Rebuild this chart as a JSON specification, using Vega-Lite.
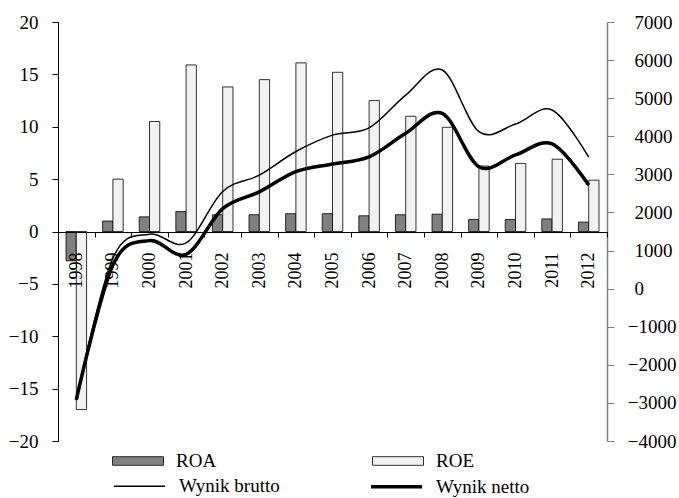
{
  "$schema": "https://vega.github.io/schema/vega-lite/v6.json",
  "width": 549,
  "height": 419,
  "autosize": {"type": "none"},
  "padding": {"left": 58, "top": 22, "right": 72, "bottom": 57},
  "background": "white",
  "config": {
    "font": "Liberation Serif",
    "view": {"stroke": null},
    "axis": {"labelFont": "Liberation Serif", "labelFontSize": 19, "labelColor": "black", "grid": false, "titleFont": "Liberation Serif"},
    "legend": {"labelFont": "Liberation Serif", "labelFontSize": 19, "labelColor": "black"}
  },
  "datasets": {
    "bars": [
      {"year": "1998", "series": "ROA", "value": -2.8}, {"year": "1998", "series": "ROE", "value": -17.0},
      {"year": "1999", "series": "ROA", "value": 1.0}, {"year": "1999", "series": "ROE", "value": 5.0},
      {"year": "2000", "series": "ROA", "value": 1.4}, {"year": "2000", "series": "ROE", "value": 10.5},
      {"year": "2001", "series": "ROA", "value": 1.9}, {"year": "2001", "series": "ROE", "value": 15.9},
      {"year": "2002", "series": "ROA", "value": 1.6}, {"year": "2002", "series": "ROE", "value": 13.8},
      {"year": "2003", "series": "ROA", "value": 1.6}, {"year": "2003", "series": "ROE", "value": 14.5},
      {"year": "2004", "series": "ROA", "value": 1.7}, {"year": "2004", "series": "ROE", "value": 16.1},
      {"year": "2005", "series": "ROA", "value": 1.7}, {"year": "2005", "series": "ROE", "value": 15.2},
      {"year": "2006", "series": "ROA", "value": 1.5}, {"year": "2006", "series": "ROE", "value": 12.5},
      {"year": "2007", "series": "ROA", "value": 1.6}, {"year": "2007", "series": "ROE", "value": 11.0},
      {"year": "2008", "series": "ROA", "value": 1.65}, {"year": "2008", "series": "ROE", "value": 9.95},
      {"year": "2009", "series": "ROA", "value": 1.15}, {"year": "2009", "series": "ROE", "value": 6.25},
      {"year": "2010", "series": "ROA", "value": 1.15}, {"year": "2010", "series": "ROE", "value": 6.5},
      {"year": "2011", "series": "ROA", "value": 1.2}, {"year": "2011", "series": "ROE", "value": 6.9},
      {"year": "2012", "series": "ROA", "value": 0.9}, {"year": "2012", "series": "ROE", "value": 4.9}
    ],
    "lines": [
      {"year": "1998", "series": "Wynik brutto", "value": -2880}, {"year": "1998", "series": "Wynik netto", "value": -2920},
      {"year": "1999", "series": "Wynik brutto", "value": 800}, {"year": "1999", "series": "Wynik netto", "value": 620},
      {"year": "2000", "series": "Wynik brutto", "value": 1430}, {"year": "2000", "series": "Wynik netto", "value": 1260},
      {"year": "2001", "series": "Wynik brutto", "value": 1200}, {"year": "2001", "series": "Wynik netto", "value": 900},
      {"year": "2002", "series": "Wynik brutto", "value": 2550}, {"year": "2002", "series": "Wynik netto", "value": 2100},
      {"year": "2003", "series": "Wynik brutto", "value": 2980}, {"year": "2003", "series": "Wynik netto", "value": 2540},
      {"year": "2004", "series": "Wynik brutto", "value": 3600}, {"year": "2004", "series": "Wynik netto", "value": 3070},
      {"year": "2005", "series": "Wynik brutto", "value": 4030}, {"year": "2005", "series": "Wynik netto", "value": 3270},
      {"year": "2006", "series": "Wynik brutto", "value": 4220}, {"year": "2006", "series": "Wynik netto", "value": 3460},
      {"year": "2007", "series": "Wynik brutto", "value": 5080}, {"year": "2007", "series": "Wynik netto", "value": 4080},
      {"year": "2008", "series": "Wynik brutto", "value": 5740}, {"year": "2008", "series": "Wynik netto", "value": 4600},
      {"year": "2009", "series": "Wynik brutto", "value": 4120}, {"year": "2009", "series": "Wynik netto", "value": 3200},
      {"year": "2010", "series": "Wynik brutto", "value": 4320}, {"year": "2010", "series": "Wynik netto", "value": 3510},
      {"year": "2011", "series": "Wynik brutto", "value": 4690}, {"year": "2011", "series": "Wynik netto", "value": 3800},
      {"year": "2012", "series": "Wynik brutto", "value": 3450}, {"year": "2012", "series": "Wynik netto", "value": 2720}
    ]
  },
  "layer": [
    {
      "data": {"name": "bars"},
      "mark": {"type": "bar", "stroke": "black", "strokeWidth": 0.8},
      "encoding": {
        "x": {
          "field": "year", "type": "ordinal",
          "scale": {"paddingInner": 0, "paddingOuter": 0},
          "axis": {
            "title": null, "orient": "bottom", "offset": -209, "labelAngle": -90, "labelFontSize": 18,
            "tickBand": "extent", "tickSize": 5, "tickColor": "black", "domainColor": "black",
            "labelPadding": 15, "zindex": 1
          }
        },
        "xOffset": {"field": "series", "type": "nominal", "scale": {"paddingInner": 0, "paddingOuter": 0.78}},
        "y": {
          "field": "value", "type": "quantitative",
          "scale": {"domain": [-20, 20], "nice": false, "zero": false},
          "axis": {
            "title": null, "values": [-20, -15, -10, -5, 0, 5, 10, 15, 20], "format": "d",
            "tickSize": 6, "tickColor": "black", "domainColor": "black", "labelPadding": 14
          }
        },
        "fill": {
          "field": "series", "type": "nominal",
          "scale": {"domain": ["ROA", "ROE"], "range": ["#808080", "#f2f2f2"]},
          "legend": {
            "title": null, "orient": "none", "legendX": 54, "legendY": 413,
            "direction": "horizontal", "columns": 2, "columnPadding": 153,
            "symbolType": "M-1,-0.17H1V0.17H-1Z", "symbolSize": 2601,
            "symbolStrokeColor": "black", "symbolStrokeWidth": 0.8, "labelOffset": 12
          }
        }
      }
    },
    {
      "data": {"name": "lines"},
      "mark": {"type": "line", "interpolate": "cardinal", "color": "black"},
      "encoding": {
        "x": {"field": "year", "type": "ordinal"},
        "y": {
          "field": "value", "type": "quantitative",
          "scale": {"domain": [-4000, 7000], "nice": false, "zero": false},
          "axis": {
            "title": null, "orient": "right", "format": "d",
            "values": [-4000, -3000, -2000, -1000, 0, 1000, 2000, 3000, 4000, 5000, 6000, 7000],
            "tickSize": 7, "tickColor": "#808080", "domainColor": "#808080", "domainWidth": 1.5,
            "labelAlign": {"condition": {"test": "datum.value < 0", "value": "right"}, "value": "left"},
            "labelPadding": {"condition": {"test": "datum.value < 0", "value": 62}, "value": 20}
          }
        },
        "strokeWidth": {
          "field": "series", "type": "ordinal",
          "scale": {"domain": ["Wynik brutto", "Wynik netto"], "range": [1.5, 3.5]},
          "legend": {
            "title": null, "orient": "none", "legendX": 54, "legendY": 437,
            "direction": "horizontal", "columns": 2, "columnPadding": 84,
            "symbolType": "stroke", "symbolSize": 2601, "symbolStrokeColor": "black", "labelOffset": 12
          }
        }
      }
    }
  ],
  "resolve": {"scale": {"y": "independent"}}
}
